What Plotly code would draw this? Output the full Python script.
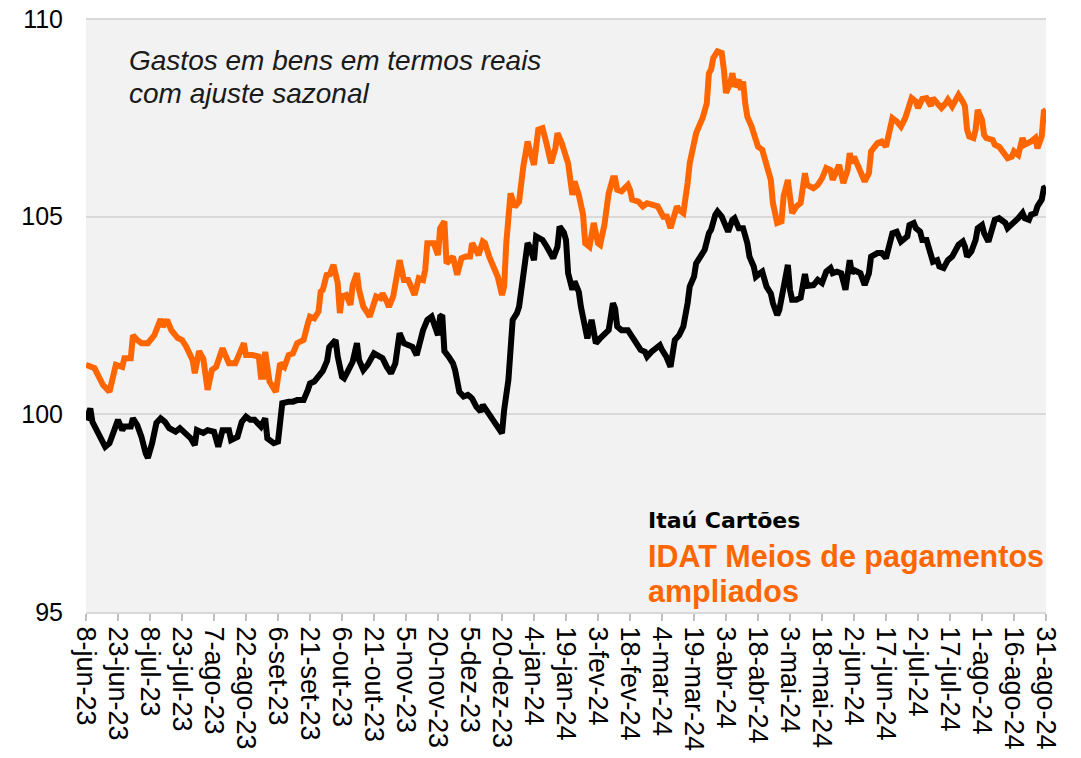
import datetime as dt
import plotly.graph_objects as go

# ---------------- data ----------------
start_date = dt.date(2023, 6, 8)

tick_labels = ["8-jun-23", "23-jun-23", "8-jul-23", "23-jul-23", "7-ago-23", "22-ago-23",
               "6-set-23", "21-set-23", "6-out-23", "21-out-23", "5-nov-23", "20-nov-23",
               "5-dez-23", "20-dez-23", "4-jan-24", "19-jan-24", "3-fev-24", "18-fev-24",
               "4-mar-24", "19-mar-24", "3-abr-24", "18-abr-24", "3-mai-24", "18-mai-24",
               "2-jun-24", "17-jun-24", "2-jul-24", "17-jul-24", "1-ago-24", "16-ago-24",
               "31-ago-24"]

# IDAT Meios de pagamentos ampliados (day offset from 8-jun-23, index value)
idat_days = [0, 2, 4, 6, 8, 11, 13, 14, 17, 18, 21, 22, 24, 26, 29, 31, 32, 35, 36, 38, 40, 43, 45, 47,
             50, 51, 53, 55, 57, 59, 61, 64, 67, 70, 72, 74, 75, 78, 81, 82, 83, 84, 86, 89, 91, 93,
             95, 97, 99, 102, 104, 105, 107, 109, 110, 111, 113, 114, 116, 118, 119, 120, 122, 124,
             125, 127, 128, 130, 132, 133, 135, 136, 138, 139, 141, 142, 144, 146, 147, 149, 151,
             153, 154, 156, 158, 159, 160, 163, 165, 166, 168, 169, 172, 174, 176, 178, 180, 181,
             184, 186, 187, 189, 192, 193, 195, 196, 197, 199, 201, 203, 205, 207, 208, 210, 212,
             214, 216, 218, 220, 221, 223, 225, 226, 228, 229, 231, 232, 233, 234, 236, 238, 240,
             241, 243, 245, 247, 248, 249, 251, 254, 255, 256, 259, 261, 263, 266, 268, 271, 272,
             274, 275, 277, 278, 280, 282, 283, 285, 286, 288, 289, 291, 292, 293, 294, 296, 298,
             299, 300, 302, 303, 304, 306, 307, 308, 309, 310, 312, 314, 315, 317, 319, 321, 322,
             324, 326, 327, 329, 330, 331, 333, 335, 337, 338, 341, 343, 345, 347, 349, 350, 352,
             353, 355, 357, 358, 359, 360, 362, 364, 365, 367, 368, 371, 373, 375, 378, 380, 382,
             384, 385, 387, 389, 390, 392, 394, 396, 397, 399, 401, 403, 404, 406, 407, 409, 411,
             412, 413, 414, 416, 417, 418, 420, 421, 422, 425, 426, 428, 430, 432, 434, 435, 437,
             439, 440, 442, 443, 445, 446, 448, 449, 450]
idat_vals = [101.25, 101.2, 101.17, 100.95, 100.74, 100.57, 101.04, 101.25, 101.2, 101.42, 101.42, 102.0,
             101.88, 101.8, 101.8, 101.93, 102.0, 102.41, 102.22, 102.39, 102.13, 101.93, 101.88,
             101.71, 101.37, 101.04, 101.6, 101.4, 100.62, 101.12, 101.2, 101.67, 101.29, 101.29,
             101.58, 101.8, 101.5, 101.5, 101.46, 100.95, 100.95, 101.58, 100.83, 100.57, 101.29,
             101.2, 101.5, 101.54, 101.8, 101.88, 102.3, 102.47, 102.43, 102.6, 103.1, 103.15,
             103.57, 103.5, 103.78, 103.32, 102.56, 102.98, 103.02, 102.77, 103.27, 103.57, 103.15,
             102.72, 102.56, 102.47, 102.81, 102.98, 102.94, 103.06, 102.85, 102.72, 102.98, 103.48,
             103.9, 103.4, 103.4, 103.15, 103.02, 103.44, 103.4, 103.65, 104.33, 104.33, 104.03,
             104.71, 104.88, 103.82, 103.99, 103.53, 103.95, 103.99, 103.99, 104.33, 104.03, 104.37,
             104.33, 103.99, 103.65, 103.48, 103.02, 103.23, 104.33, 105.59, 105.25, 105.38, 106.27,
             106.9, 106.69, 106.31, 107.2, 107.24, 106.82, 106.35, 106.73, 107.11, 106.86, 106.48,
             106.35, 105.55, 105.89, 105.55, 105.26, 105.05, 104.33, 104.24, 104.84, 104.33, 104.29,
             104.79, 105.59, 105.97, 105.97, 105.68, 105.64, 105.8, 105.68, 105.43, 105.38, 105.26,
             105.34, 105.3, 105.26, 104.96, 105.05, 104.71, 104.92, 105.26, 105.17, 105.09, 105.85,
             106.35, 106.86, 107.11, 107.37, 107.49, 107.87, 108.63, 108.72, 109.01, 109.18, 109.14,
             108.72, 108.13, 108.38, 108.63, 108.29, 108.46, 108.21, 108.42, 107.87, 107.53, 107.28,
             106.86, 106.77, 106.69, 106.35, 105.93, 105.34, 104.84, 104.88, 105.51, 105.93, 105.51,
             105.09, 105.26, 105.35, 106.1, 105.8, 105.72, 105.8, 105.97, 106.23, 106.18, 105.93,
             106.18, 106.31, 105.85, 106.18, 106.61, 106.35, 106.52, 106.27, 106.1, 105.89, 106.1,
             106.65, 106.86, 106.9, 106.77, 107.49, 107.41, 107.28, 107.49, 107.71, 108.0, 107.91,
             107.75, 107.98, 108.0, 107.8, 108.0, 107.87, 107.75, 107.87, 107.96, 107.79, 107.87,
             108.08, 107.91, 107.79, 107.2, 107.03, 106.99, 107.2, 107.7, 107.45, 107.07, 106.99,
             106.94, 106.82, 106.77, 106.65, 106.48, 106.52, 106.65, 106.56, 106.99, 106.82, 106.86,
             106.9, 106.99, 106.73, 107.03, 107.66, 107.7]

# Itaú Cartões (day offset from 8-jun-23, index value)
itau_days = [0, 2, 3, 6, 9, 11, 14, 15, 17, 18, 21, 22, 24, 26, 28, 29, 31, 33, 35, 37, 39, 42, 44, 46,
             49, 51, 52, 55, 57, 60, 62, 64, 67, 68, 71, 73, 75, 77, 79, 82, 84, 85, 88, 90, 91, 92,
             95, 97, 99, 102, 104, 105, 107, 109, 111, 113, 114, 117, 118, 120, 121, 123, 125, 127,
             128, 130, 132, 135, 137, 139, 141, 143, 145, 147, 149, 151, 153, 155, 157, 158, 160,
             162, 165, 166, 167, 168, 170, 172, 173, 174, 175, 177, 179, 180, 181, 183, 185, 186,
             188, 189, 191, 193, 195, 196, 198, 200, 202, 203, 205, 207, 208, 210, 211, 214, 216,
             219, 221, 222, 224, 225, 226, 228, 229, 231, 232, 234, 235, 237, 239, 241, 243, 245,
             247, 248, 249, 251, 254, 255, 257, 260, 262, 263, 265, 268, 269, 270, 272, 274, 275,
             276, 278, 280, 282, 283, 285, 286, 288, 290, 292, 293, 295, 296, 298, 300, 301, 303,
             304, 306, 308, 310, 311, 313, 314, 316, 317, 319, 321, 322, 324, 325, 327, 329, 330,
             331, 333, 335, 337, 338, 341, 343, 345, 347, 349, 350, 352, 354, 356, 358, 359, 360,
             363, 365, 367, 368, 371, 373, 375, 378, 380, 382, 385, 386, 388, 389, 391, 392, 394,
             396, 397, 399, 400, 402, 404, 406, 407, 409, 411, 412, 413, 415, 417, 418, 420, 421,
             423, 425, 426, 428, 431, 432, 435, 437, 439, 440, 442, 443, 445, 446, 448, 449, 450]
itau_vals = [99.85, 100.15, 99.81, 99.48, 99.18, 99.27, 99.69, 99.86, 99.6, 99.69, 99.69, 99.9, 99.73,
             99.43, 99.01, 98.9, 99.27, 99.78, 99.9, 99.81, 99.65, 99.56, 99.65, 99.53, 99.4, 99.22,
             99.6, 99.53, 99.6, 99.56, 99.18, 99.6, 99.6, 99.35, 99.43, 99.81, 99.94, 99.86, 99.86,
             99.69, 99.9, 99.39, 99.27, 99.31, 100.03, 100.28, 100.32, 100.32, 100.36, 100.36,
             100.62, 100.78, 100.83, 100.95, 101.1, 101.35, 101.7, 101.88, 101.46, 100.95, 100.91,
             101.12, 101.33, 101.8, 101.37, 101.12, 101.25, 101.54, 101.5, 101.42, 101.2, 101.04,
             101.29, 102.05, 101.8, 101.75, 101.71, 101.5, 102.05, 102.13, 102.39, 102.47, 102.0,
             102.47, 102.51, 101.6, 101.46, 101.29, 101.12, 100.7, 100.57, 100.45, 100.49, 100.45,
             100.4, 100.19, 100.07, 100.24, 100.07, 100.03, 99.81, 99.65, 99.52, 100.11, 100.87,
             102.39, 102.56, 102.72, 103.57, 104.33, 104.24, 103.9, 104.5, 104.41, 104.24, 103.95,
             104.24, 104.75, 104.6, 104.41, 103.57, 103.15, 103.36, 103.1, 102.72, 102.05, 101.92,
             102.39, 101.8, 101.92, 102.05, 102.13, 102.81, 102.68, 102.22, 102.13, 102.13, 102.05,
             101.88, 101.63, 101.58, 101.46, 101.58, 101.71, 101.75, 101.63, 101.46, 101.2, 101.54,
             101.88, 102.0, 102.22, 102.81, 103.23, 103.48, 103.82, 103.99, 104.16, 104.58, 104.67,
             105.05, 105.13, 105.0, 104.75, 104.62, 104.92, 104.96, 104.71, 104.71, 104.33, 103.99,
             103.74, 103.48, 103.57, 103.61, 103.23, 103.06, 102.81, 102.51, 102.64, 103.32, 103.78,
             103.15, 102.9, 102.9, 102.95, 103.55, 103.25, 103.27, 103.4, 103.32, 103.61, 103.7,
             103.57, 103.61, 103.57, 103.15, 103.9, 103.57, 103.65, 103.57, 103.27, 103.57, 103.99,
             104.08, 104.08, 103.95, 104.58, 104.62, 104.37, 104.5, 104.79, 104.84, 104.71, 104.62,
             104.41, 104.41, 104.1, 103.86, 103.9, 103.74, 103.7, 103.9, 103.99, 104.08, 104.29,
             104.37, 104.24, 103.99, 104.12, 104.41, 104.71, 104.79, 104.58, 104.37, 104.75, 104.92,
             104.96, 104.84, 104.71, 104.84, 104.96, 105.09, 104.96, 104.92, 105.05, 105.09, 105.26,
             105.43, 105.72, 105.75]

y_ticks = [95, 100, 105, 110]

# ---------------- figure ----------------
def to_dates(days):
    return [start_date + dt.timedelta(days=d) for d in days]

tick_dates = [start_date + dt.timedelta(days=15 * i) for i in range(len(tick_labels))]
end_date = tick_dates[-1]

ORANGE = "#FF6600"
GRID = "#D9D9D9"

fig = go.Figure()
fig.add_trace(go.Scatter(x=to_dates(idat_days), y=idat_vals, mode="lines",
                         line=dict(color=ORANGE, width=6), name="IDAT Meios de pagamentos ampliados"))
fig.add_trace(go.Scatter(x=to_dates(itau_days), y=itau_vals, mode="lines",
                         line=dict(color="#000000", width=6), name="Itaú Cartões"))

FONT = "Liberation Sans, Arial, sans-serif"

fig.update_layout(
    width=1081, height=758,
    margin=dict(l=86, r=35, t=19, b=146, pad=0),
    paper_bgcolor="white",
    plot_bgcolor="#F2F2F2",
    showlegend=False,
    font=dict(family=FONT, color="black"),
    xaxis=dict(
        type="date",
        range=[start_date, end_date],
        tickmode="array", tickvals=tick_dates, ticktext=tick_labels,
        tickangle=90,
        tickfont=dict(family=FONT, size=27, color="black"),
        ticks="outside", ticklen=7, tickwidth=1.5, tickcolor="#BFBFBF",
        showline=True, linecolor=GRID, linewidth=2,
        showgrid=False, zeroline=False,
        automargin=False,
    ),
    yaxis=dict(
        range=[95, 110],
        tickmode="array", tickvals=y_ticks,
        tickfont=dict(family=FONT, size=25, color="black"),
        showgrid=True, gridcolor=GRID, gridwidth=2,
        zeroline=False, showline=False, ticks="",
        ticklabelstandoff=22,
        ticklabeloverflow="allow",
        automargin=False,
    ),
)

# top border line of the plot area (gridline at 110)
fig.add_shape(type="line", xref="paper", yref="paper", x0=0, x1=1, y0=1, y1=1,
              line=dict(color=GRID, width=2), layer="below")

annotations = [
    dict(text="Gastos em bens em termos reais", x=0.0437, y=0.930,
         font=dict(family=FONT, size=28, color="#1a1a1a", style="italic")),
    dict(text="com ajuste sazonal", x=0.0437, y=0.874,
         font=dict(family=FONT, size=28, color="#1a1a1a", style="italic")),
    dict(text="<b>Itaú Cartões</b>", x=0.5844, y=0.1535,
         font=dict(family="DejaVu Sans, sans-serif", size=22, color="black")),
    dict(text="<b>IDAT Meios de pagamentos</b>", x=0.5844, y=0.0944,
         font=dict(family=FONT, size=30.5, color=ORANGE)),
    dict(text="<b>ampliados</b>", x=0.5844, y=0.0350,
         font=dict(family=FONT, size=30.5, color=ORANGE)),
]
for a in annotations:
    fig.add_annotation(xref="paper", yref="paper", xanchor="left", yanchor="middle",
                       showarrow=False, borderpad=0, **a)

# remove the default 8px page margin so the figure fills the window exactly
fig.write_html("out.html",
               config={"displayModeBar": False},
               post_script="document.body.style.margin='0';document.body.style.overflow='hidden';")
